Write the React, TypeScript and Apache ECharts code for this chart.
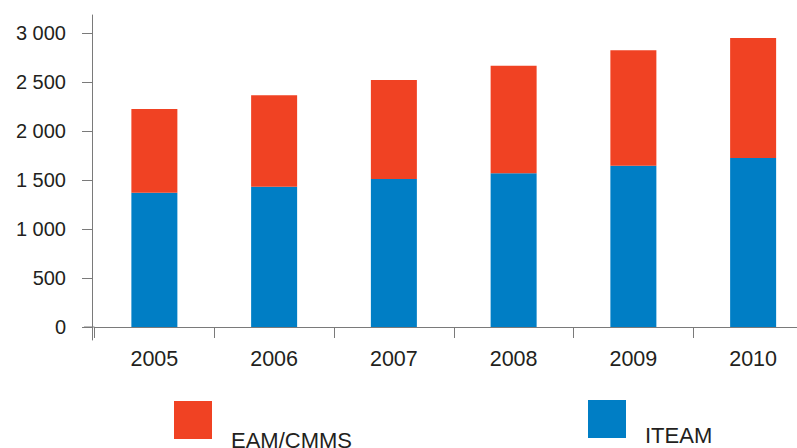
import React, { useEffect, useRef } from "react";
import * as echarts from "echarts";

const years = ["2005", "2006", "2007", "2008", "2009", "2010"];
const iteam = [1370, 1430, 1510, 1570, 1645, 1725];
const eamCmms = [855, 935, 1010, 1095, 1180, 1225];
const yTicks = [0, 500, 1000, 1500, 2000, 2500, 3000];

const RED = "#F04223";
const BLUE = "#007EC5";
const TEXT = "#231F20";
const AXIS = "#7A7A7A";
const FONT = "'Liberation Sans', Arial, Helvetica, sans-serif";
const GRID_LEFT = 94.5;

function fmt(v: number): string {
  if (v >= 1000) {
    return `${Math.floor(v / 1000)} ${String(v % 1000).padStart(3, "0")}`;
  }
  return String(v);
}

export default function App() {
  const ref = useRef<HTMLDivElement>(null);
  useEffect(() => {
    if (!ref.current) return;
    const chart = echarts.init(ref.current, undefined, { renderer: "svg" });
    chart.setOption({
      animation: false,
      backgroundColor: "#ffffff",
      textStyle: { fontFamily: FONT, color: TEXT },
      grid: { left: GRID_LEFT, right: 2, top: 15, bottom: 448 - 340 },
      legend: [
        {
          data: ["EAM/CMMS"],
          left: 169,
          top: 396,
          icon: "rect",
          itemWidth: 38,
          itemHeight: 38,
          selectedMode: false,
          formatter: "{a|{name}}",
          textStyle: {
            fontFamily: FONT,
            fontSize: 22,
            color: TEXT,
            rich: {
              a: {
                fontFamily: FONT,
                fontSize: 22,
                color: TEXT,
                padding: [41, 0, 0, 14],
              },
            },
          },
        },
        {
          data: ["ITEAM"],
          left: 583,
          top: 395,
          icon: "rect",
          itemWidth: 38,
          itemHeight: 38,
          selectedMode: false,
          formatter: "{a|{name}}",
          textStyle: {
            fontFamily: FONT,
            fontSize: 22,
            color: TEXT,
            rich: {
              a: {
                fontFamily: FONT,
                fontSize: 22,
                color: TEXT,
                padding: [32, 0, 0, 14],
              },
            },
          },
        },
      ],
      xAxis: {
        type: "category",
        data: years,
        axisLine: { onZero: true, lineStyle: { color: AXIS, width: 1 } },
        axisTick: { show: true, length: 11, lineStyle: { color: AXIS } },
        axisLabel: {
          fontFamily: FONT,
          fontSize: 21.5,
          color: TEXT,
          margin: 8,
        },
      },
      yAxis: {
        type: "value",
        min: -132.65,
        max: 3183.67,
        offset: 2.5,
        splitLine: { show: false },
        axisLine: { show: true, lineStyle: { color: AXIS, width: 1 } },
        axisTick: {
          show: true,
          length: 10,
          customValues: yTicks,
          lineStyle: { color: AXIS },
        },
        axisLabel: {
          customValues: yTicks,
          fontFamily: FONT,
          fontSize: 20,
          color: TEXT,
          margin: 26,
          formatter: (v: number) => fmt(v),
        },
      },
      series: [
        {
          name: "ITEAM",
          type: "bar",
          stack: "total",
          data: iteam,
          barWidth: 46,
          itemStyle: { color: BLUE },
        },
        {
          name: "EAM/CMMS",
          type: "bar",
          stack: "total",
          data: eamCmms,
          barWidth: 46,
          itemStyle: { color: RED },
        },
      ],
    });
    const y0 = chart.convertToPixel({ yAxisIndex: 0 }, 0) as number;
    chart.setOption({
      graphic: [
        {
          type: "line",
          shape: { x1: 84, y1: y0, x2: GRID_LEFT, y2: y0 },
          style: { stroke: AXIS, lineWidth: 1 },
          silent: true,
        },
      ],
    });
    return () => chart.dispose();
  }, []);
  return (
    <div style={{ position: "absolute", left: 0, top: 0, width: 797, height: 448, overflow: "hidden" }}>
      <div ref={ref} style={{ width: 815, height: 448 }} />
    </div>
  );
}
